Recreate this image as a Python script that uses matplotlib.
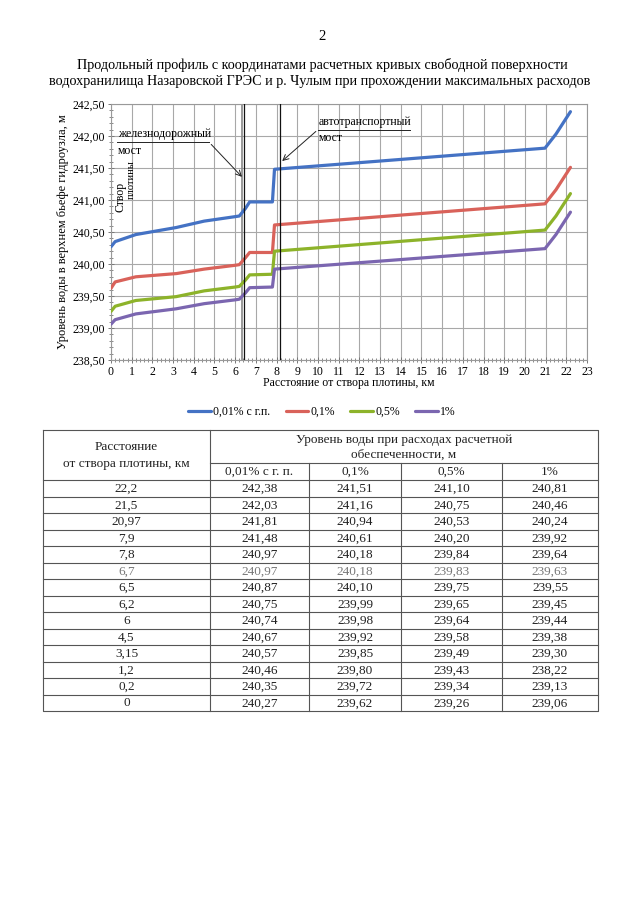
import numpy as np
import matplotlib
matplotlib.use("Agg")
import matplotlib.pyplot as plt
from matplotlib.ticker import MultipleLocator, FuncFormatter

plt.rcParams['font.family'] = ['Liberation Serif', 'DejaVu Serif']

# distance from the dam, km (ascending for the chart)
dist = [0, 0.2, 1.2, 3.15, 4.5, 6, 6.2, 6.5, 6.7, 7.8, 7.9, 20.97, 21.5, 22.2]
dist_labels = ['0', '0,2', '1,2', '3,15', '4,5', '6', '6,2', '6,5', '6,7',
               '7,8', '7,9', '20,97', '21,5', '22,2']

# water levels, m
lvl_001 = [240.27, 240.35, 240.46, 240.57, 240.67, 240.74, 240.75, 240.87,
           240.97, 240.97, 241.48, 241.81, 242.03, 242.38]
lvl_01 = [239.62, 239.72, 239.80, 239.85, 239.92, 239.98, 239.99, 240.10,
          240.18, 240.18, 240.61, 240.94, 241.16, 241.51]
lvl_05 = [239.26, 239.34, 239.43, 239.49, 239.58, 239.64, 239.65, 239.75,
          239.83, 239.84, 240.20, 240.53, 240.75, 241.10]
lvl_1 = [239.06, 239.13, 239.22, 239.30, 239.38, 239.44, 239.45, 239.55,
         239.63, 239.64, 239.92, 240.24, 240.46, 240.81]
# the printed table shows 238,22 at 1,2 km (chart shows ~239,22)
lvl_1_table = list(lvl_1)
lvl_1_table[2] = 238.22

series_names = ['0,01% с г.п.', '0,1%', '0,5%', '1%']
table_heads = ['0,01% с г. п.', '0,1%', '0,5%', '1%']
colors = ['#4472c4', '#d9625a', '#8db32a', '#7b66b0']

rail_bridge = 6.42
road_bridge = 8.15

W, H = 640, 902
fig = plt.figure(figsize=(W / 100, H / 100), dpi=100)
fig.patch.set_facecolor('white')

def fx(px):
    return px / W

def fy(py):
    return 1 - py / H

# page header
fig.text(fx(322), fy(37), '2', ha='center', va='center', fontsize=10.5)
fig.text(fx(322), fy(65), 'Продольный профиль с координатами расчетных кривых свободной поверхности',
         ha='center', va='center', fontsize=10.2)
fig.text(fx(320), fy(82), 'водохранилища Назаровской ГРЭС и р. Чулым при прохождении максимальных расходов',
         ha='center', va='center', fontsize=10.2)

# ---- chart
ax = fig.add_axes([fx(111), fy(360), fx(587) - fx(111), fy(104) - fy(360)])
lines = []
for ys, c, name in zip([lvl_001, lvl_01, lvl_05, lvl_1], colors, series_names):
    l, = ax.plot(dist, ys, color=c, lw=2.3, solid_capstyle='round', zorder=3, label=name)
    lines.append(l)

ax.set_xlim(0, 23)
ax.set_ylim(238.5, 242.5)
ax.xaxis.set_major_locator(MultipleLocator(1))
ax.xaxis.set_minor_locator(MultipleLocator(0.2))
ax.yaxis.set_major_locator(MultipleLocator(0.5))
ax.yaxis.set_minor_locator(MultipleLocator(0.1))
ax.yaxis.set_major_formatter(FuncFormatter(lambda v, p: f'{v:.2f}'.replace('.', ',')))
ax.grid(True, which='major', color='#a8a8a8', lw=0.8)
ax.tick_params(which='major', direction='inout', length=5, width=0.7, color='#777',
               labelsize=8.5, pad=2)
ax.tick_params(which='minor', direction='inout', length=3, width=0.6, color='#777')
for s in ax.spines.values():
    s.set_color('#999')
    s.set_linewidth(0.8)

# bridges
ax.axvline(rail_bridge - 0.09, color='#888', lw=1.2, zorder=2)
ax.axvline(rail_bridge, color='#111', lw=0.9, zorder=4)
ax.axvline(road_bridge, color='#111', lw=0.9, zorder=4)

ax.text(0.35, 241.93, 'железнодорожный', fontsize=8.5, ha='left', va='bottom')
ax.text(0.35, 241.86, 'мост', fontsize=8.5, ha='left', va='top')
ax.plot([0.3, 4.75], [241.9, 241.9], color='#222', lw=0.7, zorder=4)
ax.annotate('', xy=(rail_bridge, 241.33), xytext=(4.75, 241.9),
            arrowprops=dict(arrowstyle='->', color='#222', lw=0.7), zorder=4)

ax.text(10.05, 242.13, 'автотранспортный', fontsize=8.5, ha='left', va='bottom')
ax.text(10.05, 242.06, 'мост', fontsize=8.5, ha='left', va='top')
ax.plot([10.0, 14.45], [242.1, 242.1], color='#222', lw=0.7, zorder=4)
ax.annotate('', xy=(road_bridge + 0.02, 241.58), xytext=(10.0, 242.1),
            arrowprops=dict(arrowstyle='->', color='#222', lw=0.7), zorder=4)

ax.text(0.45, 241.05, 'Створ', rotation=90, fontsize=8.5, ha='center', va='center')
ax.text(1.0, 241.32, 'плотины', rotation=90, fontsize=7.5, ha='center', va='center')

ax.set_ylabel('Уровень воды в верхнем бьефе гидроузла, м', fontsize=9)
ax.yaxis.set_label_coords(-0.088, 0.5)
fig.text(fx(349), fy(383), 'Расстояние от створа плотины, км', ha='center', va='center',
         fontsize=8.5)

fig.legend(handles=lines, loc='center', bbox_to_anchor=(fx(322), fy(412)), ncol=4,
           frameon=False, fontsize=8.5, handlelength=1.9, handletextpad=0.2,
           columnspacing=1.3)

# ---- table
tx0, tx1, ty0, ty1 = 43, 598, 430, 711
tax = fig.add_axes([fx(tx0), fy(ty1), fx(tx1) - fx(tx0), fy(ty0) - fy(ty1)])
tax.set_xlim(0, tx1 - tx0)
tax.set_ylim(ty1 - ty0, 0)
tax.axis('off')

col_edges = [0, 167, 266, 358, 459, 555]
head_h = 33
sub_h = 17
n_rows = len(dist)
row_h = (ty1 - ty0 - head_h - sub_h) / n_rows
lc = '#555'
lw = 0.8
total_h = ty1 - ty0

# outer frame and column lines
tax.plot([0, 555, 555, 0, 0], [0, 0, total_h, total_h, 0], color=lc, lw=lw, clip_on=False)
tax.plot([col_edges[1], col_edges[1]], [0, total_h], color=lc, lw=lw, clip_on=False)
for xe in col_edges[2:-1]:
    tax.plot([xe, xe], [head_h, total_h], color=lc, lw=lw, clip_on=False)
tax.plot([col_edges[1], 555], [head_h, head_h], color=lc, lw=lw, clip_on=False)
for i in range(n_rows):
    yy = head_h + sub_h + i * row_h
    tax.plot([0, 555], [yy, yy], color=lc, lw=lw, clip_on=False)

fs = 9.5
tc = '#222'
tax.text(col_edges[1] / 2, 17, 'Расстояние', ha='center', va='center', fontsize=fs, color=tc)
tax.text(col_edges[1] / 2, 34, 'от створа плотины, км', ha='center', va='center', fontsize=fs, color=tc)
mid = (col_edges[1] + 555) / 2
tax.text(mid, 10, 'Уровень воды при расходах расчетной', ha='center', va='center', fontsize=fs, color=tc)
tax.text(mid, 25, 'обеспеченности, м', ha='center', va='center', fontsize=fs, color=tc)
for j, h in enumerate(table_heads):
    xc = (col_edges[j + 1] + col_edges[j + 2]) / 2
    tax.text(xc, head_h + sub_h / 2 + 0.5, h, ha='center', va='center', fontsize=fs, color=tc)

cols = [lvl_001, lvl_01, lvl_05, lvl_1_table]
order = list(range(n_rows))[::-1]
for r, k in enumerate(order):
    yc = head_h + sub_h + (r + 0.5) * row_h + 0.5
    c = '#777' if dist_labels[k] == '6,7' else tc
    tax.text(col_edges[1] / 2, yc, dist_labels[k], ha='center', va='center', fontsize=fs, color=c)
    for j, col in enumerate(cols):
        xc = (col_edges[j + 1] + col_edges[j + 2]) / 2
        tax.text(xc, yc, f'{col[k]:.2f}'.replace('.', ','), ha='center', va='center',
                 fontsize=fs, color=c)

fig.savefig('out.png', dpi=100)
